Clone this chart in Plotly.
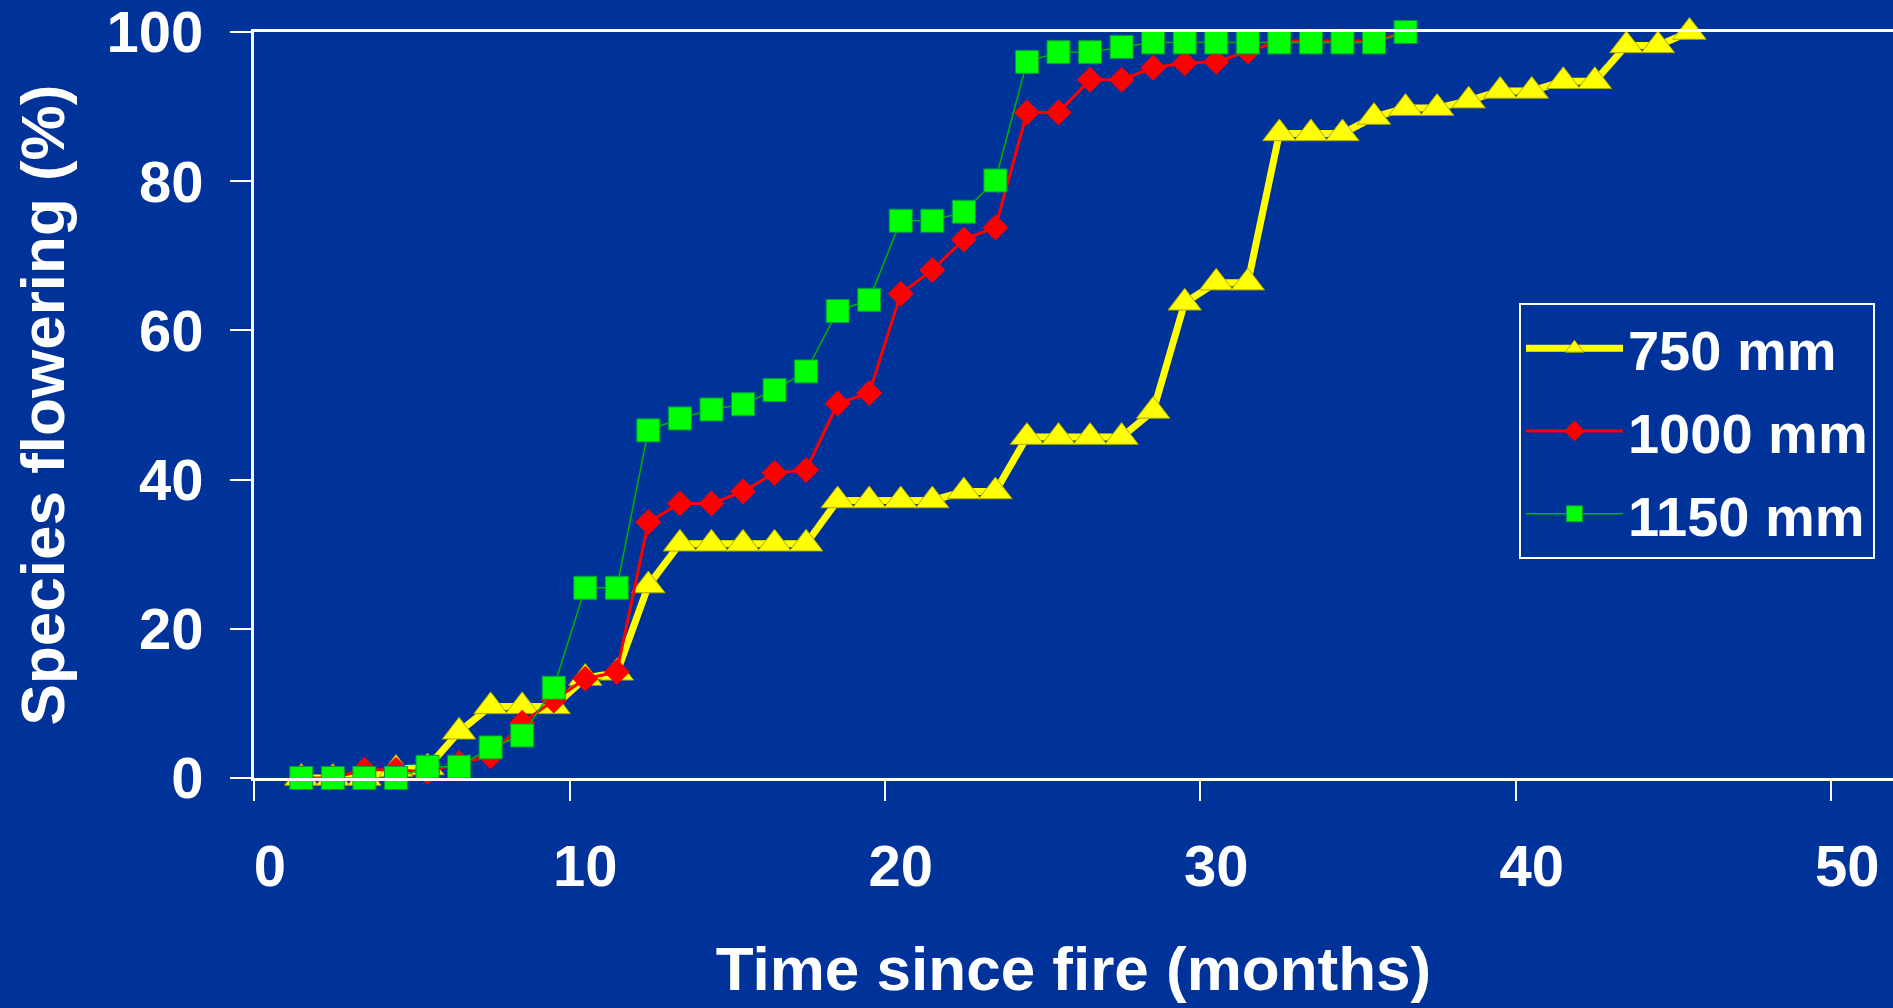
import plotly.graph_objects as go

# ---- data ----
months_750 = [1, 2, 3, 4, 5, 6, 7, 8, 9, 10, 11, 12, 13, 14, 15, 16, 17, 18, 19, 20,
              21, 22, 23, 24, 25, 26, 27, 28, 29, 30, 31, 32, 33, 34, 35, 36, 37, 38,
              39, 40, 41, 42, 43, 44, 45]
pct_750 = [0, 0, 0, 1.2, 1.4, 6.2, 9.6, 9.6, 9.6, 13.4, 14.1, 25.8, 31.4, 31.4, 31.4,
           31.4, 31.4, 37.2, 37.2, 37.2, 37.2, 38.4, 38.4, 45.7, 45.7, 45.7, 45.7, 49.2,
           63.7, 66.4, 66.4, 86.4, 86.4, 86.4, 88.6, 89.8, 89.8, 90.8, 92.1, 92.1, 93.4,
           93.4, 98.2, 98.2, 100]

months_1000 = [1, 2, 3, 4, 5, 6, 7, 8, 9, 10, 11, 12, 13, 14, 15, 16, 17, 18, 19, 20,
               21, 22, 23, 24, 25, 26, 27, 28, 29, 30, 31, 32, 33, 34, 35, 36]
pct_1000 = [0, 0, 1.1, 1.1, 0.8, 2.0, 2.9, 7.4, 10.4, 13.3, 14.2, 34.3, 36.8, 36.8, 38.4,
            40.9, 41.3, 50.2, 51.6, 64.9, 68.1, 72.2, 73.8, 89.2, 89.2, 93.6, 93.6, 95.2,
            95.8, 96.0, 97.4, 98.8, 98.8, 98.8, 98.8, 100]

months_1150 = [1, 2, 3, 4, 5, 6, 7, 8, 9, 10, 11, 12, 13, 14, 15, 16, 17, 18, 19, 20,
               21, 22, 23, 24, 25, 26, 27, 28, 29, 30, 31, 32, 33, 34, 35, 36]
pct_1150 = [0, 0, 0, 0, 1.5, 1.5, 4.1, 5.7, 12.1, 25.5, 25.5, 46.6, 48.2, 49.4, 50.1,
            52.0, 54.5, 62.6, 64.1, 74.7, 74.7, 75.9, 80.1, 96.0, 97.3, 97.3, 98.0, 98.6,
            98.6, 98.6, 98.6, 98.6, 98.6, 98.6, 98.6, 100]

series_names = ["750 mm", "1000 mm", "1150 mm"]

x_tick_labels = [0, 10, 20, 30, 40, 50]
x_tick_marks = [-0.5, 9.5, 19.5, 29.5, 39.5, 49.5]
y_ticks = [0, 20, 40, 60, 80, 100]

BG = "#003399"
FONT = "Liberation Sans, Arial, sans-serif"

fig = go.Figure()

fig.add_trace(go.Scatter(
    x=months_750, y=pct_750, name=series_names[0], mode="lines+markers",
    line=dict(color="#FFFF00", width=7),
    marker=dict(symbol="triangle-up", size=29, color="#FFFF00",
                line=dict(color="#A8A800", width=1)),
    cliponaxis=False, legendgroup="g1",
))
fig.add_trace(go.Scatter(
    x=months_1000, y=pct_1000, name=series_names[1], mode="lines+markers",
    line=dict(color="#FF0000", width=3),
    marker=dict(symbol="diamond", size=20, color="#FF0000",
                line=dict(color="#FF0000", width=0)),
    cliponaxis=False, legendgroup="g2",
))
fig.add_trace(go.Scatter(
    x=months_1150, y=pct_1150, name=series_names[2], mode="lines+markers",
    line=dict(color="#00B400", width=1.5),
    marker=dict(symbol="square", size=23, color="#00FF00",
                line=dict(color="#009A40", width=1)),
    cliponaxis=False, legendgroup="g3",
))

fig.update_layout(
    width=1893, height=1008,
    margin=dict(l=254, r=0, t=32, b=230, pad=0),
    paper_bgcolor=BG, plot_bgcolor=BG,
    font=dict(family=FONT, color="white", weight="bold"),
    showlegend=True,
    legend=dict(
        x=0.7718, y=0.6364, xanchor="left", yanchor="top",
        bgcolor=BG, bordercolor="white", borderwidth=2,
        font=dict(family=FONT, size=56, color="white", weight="bold"),
        itemwidth=97, tracegroupgap=7,
    ),
    xaxis=dict(
        range=[-0.5, 51.45],
        showline=True, linecolor="white", linewidth=3, mirror=True,
        showgrid=False, zeroline=False,
        tickmode="array", tickvals=x_tick_labels,
        ticks="",
        minor=dict(tickmode="array", tickvals=x_tick_marks, ticks="outside",
                   ticklen=20, tickwidth=2, tickcolor="white", showgrid=False),
        tickfont=dict(family=FONT, size=58, color="white", weight="bold"),
        ticklabelstandoff=35, ticklabeloverflow="allow",
        title=dict(text="Time since fire (months)",
                   font=dict(family=FONT, size=62, color="white", weight="bold"),
                   standoff=51),
    ),
    yaxis=dict(
        range=[0, 100],
        showline=True, linecolor="white", linewidth=3,
        showgrid=False, zeroline=False,
        tickmode="array", tickvals=y_ticks,
        ticks="outside", ticklen=21, tickwidth=2, tickcolor="white",
        tickfont=dict(family=FONT, size=58, color="white", weight="bold"),
        ticklabelstandoff=15, ticklabeloverflow="allow",
        title=dict(text="Species flowering (%)",
                   font=dict(family=FONT, size=62, color="white", weight="bold"),
                   standoff=22),
    ),
)

fig.write_html(
    "out.html",
    config={"displayModeBar": False},
    post_script="document.body.style.margin='0';document.body.style.padding='0';"
                "document.body.style.background='" + BG + "';",
)
